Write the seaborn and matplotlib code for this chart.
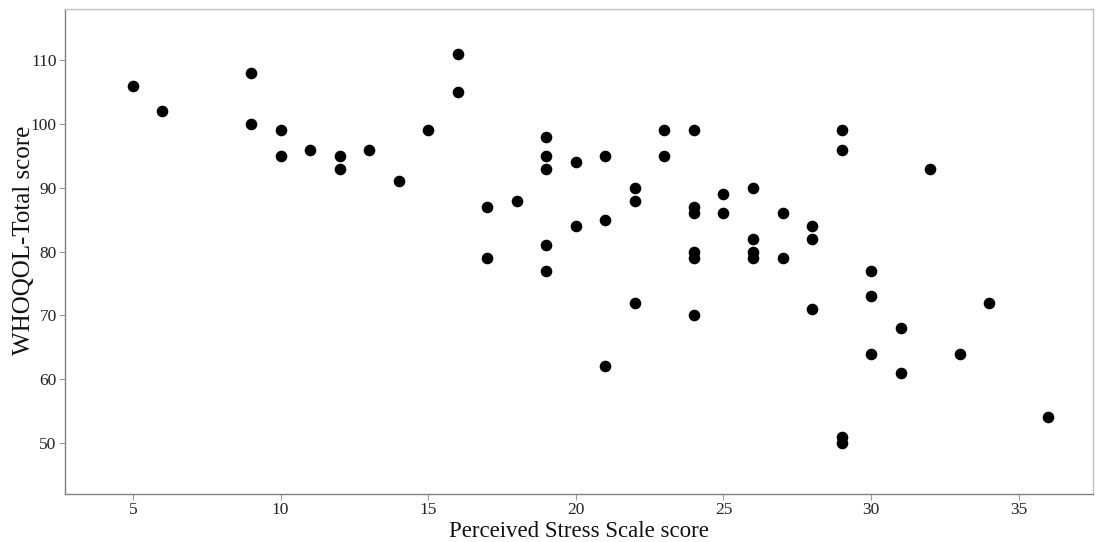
import matplotlib
matplotlib.use("Agg")
import matplotlib.pyplot as plt
import seaborn as sns
import pandas as pd

# Perceived Stress Scale score vs WHOQOL total score
pss = [5, 6, 9, 9, 10, 10, 11, 12, 12, 13, 14, 15, 16, 16, 17, 17, 18,
       19, 19, 19, 19, 19, 20, 20, 21, 21, 21, 22, 22, 22, 23, 23,
       24, 24, 24, 24, 24, 24, 25, 25, 26, 26, 26, 26, 27, 27,
       28, 28, 28, 29, 29, 29, 29, 30, 30, 30, 31, 31, 32, 33, 34, 36]
whoqol = [106, 102, 108, 100, 99, 95, 96, 95, 93, 96, 91, 99, 111, 105, 87, 79, 88,
          98, 95, 93, 81, 77, 94, 84, 95, 85, 62, 90, 88, 72, 99, 95,
          99, 87, 86, 80, 79, 70, 89, 86, 90, 82, 80, 79, 86, 79,
          84, 82, 71, 99, 96, 51, 50, 77, 73, 64, 68, 61, 93, 64, 72, 54]

df = pd.DataFrame({"pss": pss, "whoqol": whoqol})

sns.set_style("white")
plt.rcParams['font.family'] = ['Liberation Serif', 'DejaVu Serif']

fig = plt.figure(figsize=(11.07, 5.42), dpi=100)
ax = fig.add_axes([0.0587, 0.0886, 0.9283, 0.8944])
sns.scatterplot(data=df, x="pss", y="whoqol", color="black", s=70,
                edgecolor="black", linewidth=0, ax=ax)

ax.set_xlim(2.7, 37.5)
ax.set_ylim(42, 118)
ax.set_xticks([5, 10, 15, 20, 25, 30, 35])
ax.set_yticks([50, 60, 70, 80, 90, 100, 110])
ax.set_xlabel("Perceived Stress Scale score", fontsize=16.5, color="#111111", labelpad=2)
ax.set_ylabel("WHOQOL-Total score", fontsize=18, color="#111111")
ax.yaxis.set_label_coords(-0.029, 0.524)
ax.tick_params(axis="both", labelsize=12.5, length=4, width=0.8,
               color="#999999", labelcolor="#222222", direction="out", pad=2,
               bottom=True, left=True)

for side in ["left", "bottom"]:
    ax.spines[side].set_color("#808080")
    ax.spines[side].set_linewidth(1.0)
for side in ["top", "right"]:
    ax.spines[side].set_color("#c0c0c0")
    ax.spines[side].set_linewidth(1.0)

fig.savefig("out.png", dpi=100)
